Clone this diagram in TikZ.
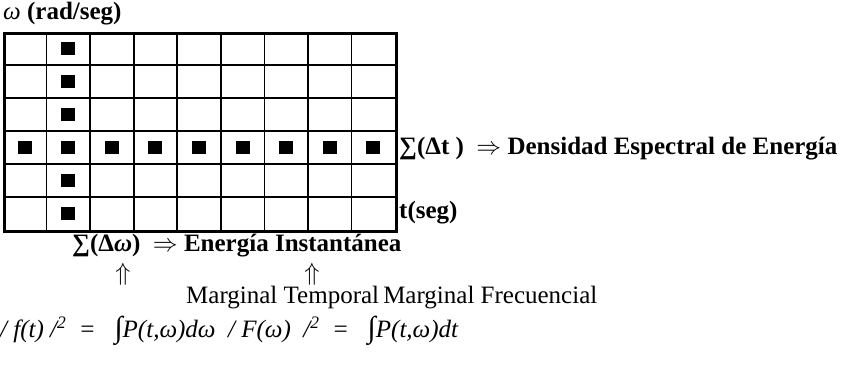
\documentclass[tikz,border=0pt]{standalone}
\usepackage{fontspec}
\setmainfont{Liberation Serif}
\usetikzlibrary{positioning}

\begin{document}
\begin{tikzpicture}[
    x=1pt, y=-1pt,
    font=\fontsize{25}{29}\selectfont,
    lbl/.style={anchor=west, inner sep=0pt},
    blbl/.style={lbl, font=\fontsize{25}{29}\selectfont\bfseries},
    uparr/.style={inner sep=0pt, font=\fontsize{24}{24}\selectfont},
    gline/.style={line width=1.7pt},
    frame/.style={draw, line width=2.8pt, inner sep=0pt, anchor=north west},
    dot/.style={fill=black, minimum width=14pt, minimum height=13pt, inner sep=0pt},
  ]
  \useasboundingbox (0,0) rectangle (853,379);

  % --- Grid ---------------------------------------------------------------
  \def\cw{43.56}
  \def\rh{33}
  \foreach \i in {1,...,8}
    \draw[gline] (3+\i*\cw,32) -- (3+\i*\cw,230);
  \foreach \j in {1,...,5}
    \draw[gline] (3,32+\j*\rh) -- (395,32+\j*\rh);
  \node[frame, minimum width=392pt, minimum height=198pt] (grid) at (3,32) {};

  % --- Energy cells -------------------------------------------------------
  \foreach \j in {1,...,6}
    \node[dot] (col-\j) at (3+1.5*\cw,32+\j*\rh-0.5*\rh) {};
  \foreach \i in {1,...,9}
    \node[dot] (row-\i) at (3+\i*\cw-0.5*\cw,32+3.5*\rh) {};

  % --- Axis labels --------------------------------------------------------
  \node[lbl] (wlab) at (3,14) {\textit{ω} \textbf{(rad/seg)}};
  \node[blbl] (tlab) at (399,213) {t(seg)};

  % --- Marginals ----------------------------------------------------------
  \node[blbl] (dens) at (399,149) {∑(Δt )~~$\Rightarrow$ Densidad Espectral de Energía};
  \node[blbl] (inst) at (72,246) {∑(Δ\textit{ω})~~$\Rightarrow$ Energía Instantánea};
  \node[uparr] (up1) at (123,274) {$\Uparrow$};
  \node[uparr] (up2) at (312,274) {$\Uparrow$};
  \node[lbl] (marg) at (186,298) {Marginal Temporal\,Marginal Frecuencial};
  \node[lbl] (form) at (0,331)
    {\itshape / f(t) /\textsuperscript{2}~~=~~~{\fontsize{30}{30}\selectfont ∫}P(t,ω)dω~~/ F(ω)~~/\textsuperscript{2}~~=~~~{\fontsize{30}{30}\selectfont ∫}P(t,ω)dt};

\end{tikzpicture}
\end{document}
